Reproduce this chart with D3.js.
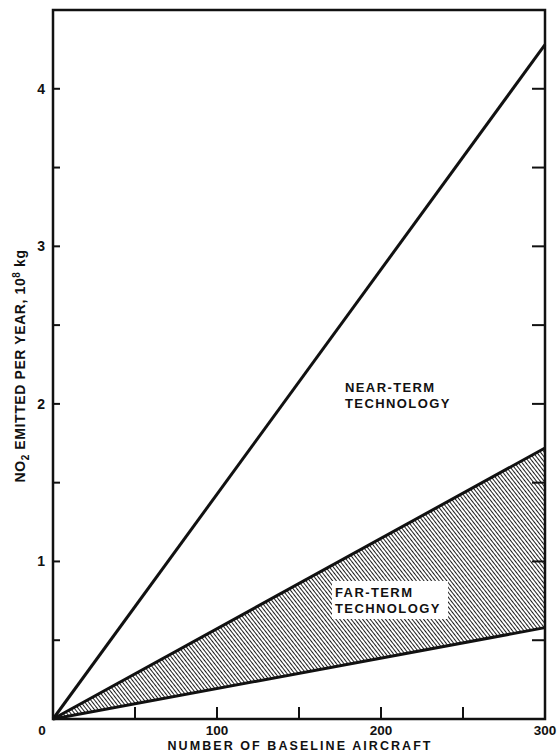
<!DOCTYPE html>
<html>
<head>
<meta charset="utf-8">
<script src="https://cdn.jsdelivr.net/npm/d3@7"></script>
<style>
    body { margin: 0; background: #fff; }
    text { font-family: "Liberation Sans", Arial, Helvetica, sans-serif; font-weight: bold; fill: #111; }
</style>
</head>
<body>
<div id="chart"></div>
<script>
// chart values
var aircraft = [0, 300];            // number of baseline aircraft
var nearTerm = [0, 4.28];           // NO2, 10^8 kg / year
var farTermHigh = [0, 1.72];
var farTermLow = [0, 0.58];
var xTicks = [0, 50, 100, 150, 200, 250, 300];
var xTickLabels = [100, 200, 300];
var yTicks = [0.5, 1, 1.5, 2, 2.5, 3, 3.5, 4];
var yTickLabels = [1, 2, 3, 4];

var svgWidth = 559, svgHeight = 753;
var margin = {top: 10, right: 14, bottom: 34, left: 53};

var svg = d3.select("#chart").append("svg")
    .attr("width", svgWidth)
    .attr("height", svgHeight);

var x = d3.scaleLinear().domain([0, 300]).range([margin.left, svgWidth - margin.right]);
var y = d3.scaleLinear().domain([0, 4.5]).range([svgHeight - margin.bottom, margin.top]);

// hatch pattern for the far-term band
var defs = svg.append("defs");
defs.append("pattern")
    .attr("id", "hatch")
    .attr("patternUnits", "userSpaceOnUse")
    .attr("width", 3)
    .attr("height", 3)
    .attr("patternTransform", "rotate(-38)")
    .append("line")
    .attr("x1", 0).attr("y1", -1)
    .attr("x2", 0).attr("y2", 4)
    .attr("stroke", "#111")
    .attr("stroke-width", 1.9);

var band = aircraft.map(function (d, i) {
    return {x: d, lo: farTermLow[i], hi: farTermHigh[i]};
});

svg.append("path")
    .datum(band)
    .attr("fill", "url(#hatch)")
    .attr("d", d3.area()
        .x(function (d) { return x(d.x); })
        .y0(function (d) { return y(d.lo); })
        .y1(function (d) { return y(d.hi); }));

// label box for far-term text
svg.append("rect")
    .attr("x", 332).attr("y", 581)
    .attr("width", 116).attr("height", 38)
    .attr("fill", "#fff");

// the three lines
[nearTerm, farTermHigh, farTermLow].forEach(function (series) {
    var pts = aircraft.map(function (d, i) { return [d, series[i]]; });
    svg.append("path")
        .datum(pts)
        .attr("fill", "none")
        .attr("stroke", "#111")
        .attr("stroke-width", 3)
        .attr("d", d3.line()
            .x(function (d) { return x(d[0]); })
            .y(function (d) { return y(d[1]); }));
});

// frame
svg.append("rect")
    .attr("x", x(0)).attr("y", y(4.5))
    .attr("width", x(300) - x(0))
    .attr("height", y(0) - y(4.5))
    .attr("fill", "none")
    .attr("stroke", "#111")
    .attr("stroke-width", 2.5);

// ticks, pointing inward
var ax = svg.append("g").attr("stroke", "#111").attr("stroke-width", 2);
ax.selectAll("line.yl").data(yTicks).enter().append("line")
    .attr("x1", x(0)).attr("x2", x(0) + 7)
    .attr("y1", function (d) { return y(d); })
    .attr("y2", function (d) { return y(d); });
ax.selectAll("line.yr").data(yTicks).enter().append("line")
    .attr("x1", x(300)).attr("x2", x(300) - 13)
    .attr("y1", function (d) { return y(d); })
    .attr("y2", function (d) { return y(d); });
ax.selectAll("line.xt").data(xTicks.slice(1, -1)).enter().append("line")
    .attr("x1", function (d) { return x(d); })
    .attr("x2", function (d) { return x(d); })
    .attr("y1", y(0)).attr("y2", y(0) - 12);

// tick labels
svg.selectAll("text.ylab").data(yTickLabels).enter().append("text")
    .attr("x", 45)
    .attr("y", function (d) { return y(d) + 5; })
    .attr("text-anchor", "end")
    .style("font-size", "14px")
    .text(function (d) { return d; });

svg.selectAll("text.xlab").data(xTickLabels).enter().append("text")
    .attr("x", function (d) { return x(d); })
    .attr("y", 735)
    .attr("text-anchor", "middle")
    .style("font-size", "13.5px")
    .text(function (d) { return d; });

svg.append("text")
    .attr("x", 42).attr("y", 735)
    .attr("text-anchor", "middle")
    .style("font-size", "13.5px")
    .text("0");

// axis titles
svg.append("text")
    .attr("x", (x(0) + x(300)) / 2)
    .attr("y", 750)
    .attr("text-anchor", "middle")
    .attr("textLength", 263)
    .attr("lengthAdjust", "spacing")
    .style("font-size", "12.5px")
    .text("NUMBER OF BASELINE AIRCRAFT");

var yt = svg.append("text")
    .attr("transform", "translate(25,366) rotate(-90)")
    .attr("text-anchor", "middle")
    .style("font-size", "14px")
    .style("letter-spacing", "0.6px");
yt.append("tspan").text("NO");
yt.append("tspan").attr("dy", 4).style("font-size", "10px").text("2");
yt.append("tspan").attr("dy", -4).text(" EMITTED PER YEAR, 10");
yt.append("tspan").attr("dy", -5).style("font-size", "10px").text("8");
yt.append("tspan").attr("dy", 5).text(" kg");

// series labels
function label(lines, x0, y0) {
    lines.forEach(function (t, i) {
        svg.append("text")
            .attr("x", x0)
            .attr("y", y0 + i * 16)
            .style("font-size", "13px")
            .style("letter-spacing", "1.4px")
            .text(t);
    });
}
label(["NEAR-TERM", "TECHNOLOGY"], 345, 392);
label(["FAR-TERM", "TECHNOLOGY"], 335, 597);
</script>
</body>
</html>
